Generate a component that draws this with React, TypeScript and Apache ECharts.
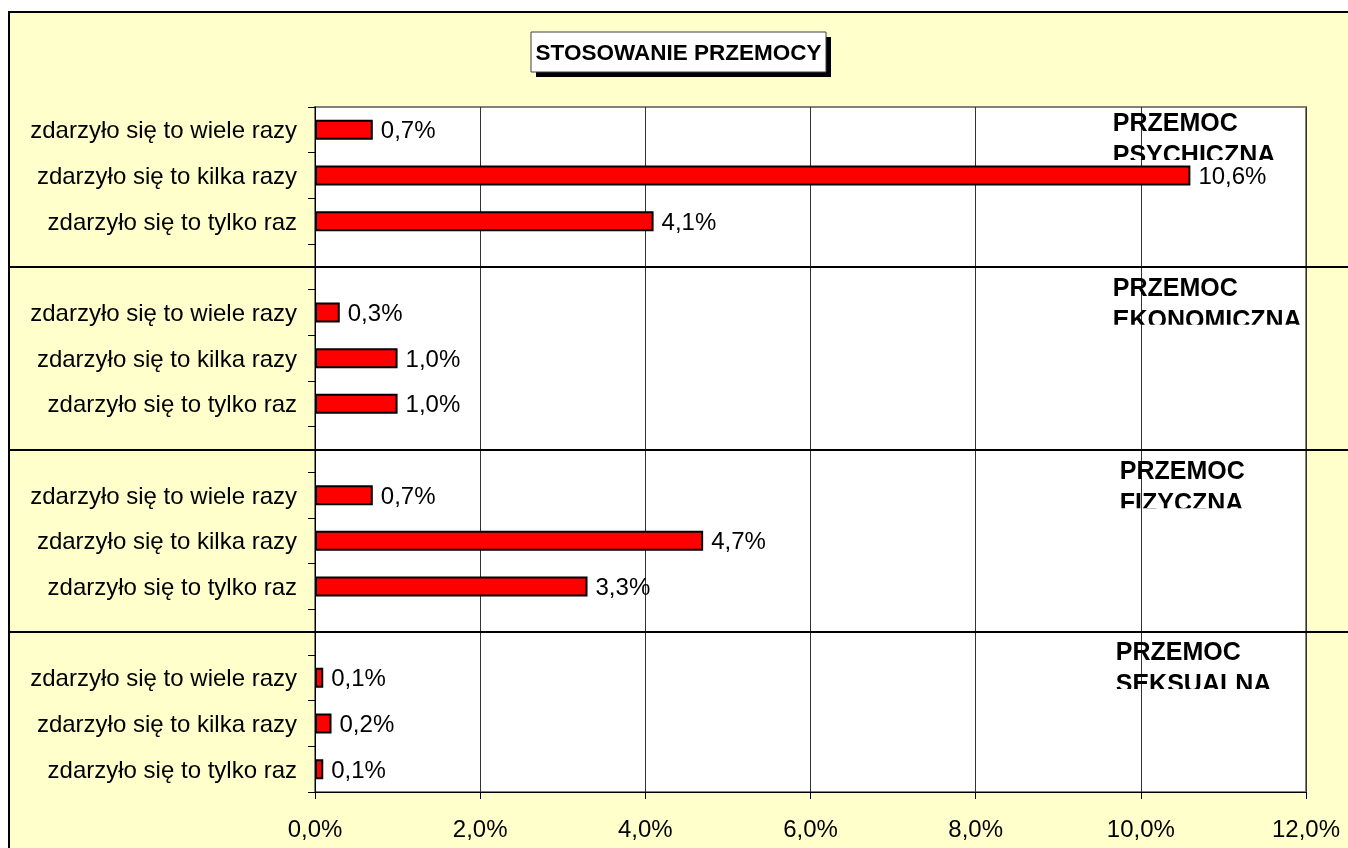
import React, { useEffect, useRef } from 'react';
import * as echarts from 'echarts';

// ---- data ----
const rowLabels = ['zdarzyło się to wiele razy', 'zdarzyło się to kilka razy', 'zdarzyło się to tylko raz'];
const groupNames = ['PRZEMOC\nPSYCHICZNA', 'PRZEMOC\nEKONOMICZNA', 'PRZEMOC\nFIZYCZNA', 'PRZEMOC\nSEKSUALNA'];
const psychiczna = [0.7, 10.6, 4.1];
const ekonomiczna = [0.3, 1.0, 1.0];
const fizyczna = [0.7, 4.7, 3.3];
const seksualna = [0.1, 0.2, 0.1];
const xMin = 0;
const xMax = 12;
const xInterval = 2;
const title = 'STOSOWANIE PRZEMOCY';

const groups = [psychiczna, ekonomiczna, fizyczna, seksualna];

// categories: 3 rows per group, one empty slot between groups
const categories: string[] = [];
const barValues: (number | null)[] = [];
const groupStart: number[] = [];
const separators: number[] = [];
groups.forEach((g, gi) => {
  groupStart.push(categories.length);
  g.forEach((v, ri) => {
    categories.push(rowLabels[ri]);
    barValues.push(v);
  });
  if (gi < groups.length - 1) {
    separators.push(categories.length);
    categories.push('');
    barValues.push(null);
  }
});

// ---- layout / style ----
const FONT = '"Liberation Sans", Arial, Helvetica, sans-serif';
const LABEL_X = 9.66; // group label anchor, in axis units
const LABEL_DX = [0, 0, 7, 3];
const CAP_OFFSET = [6, -12, -11, -13];
const fmt = (v: number) => v.toFixed(1).replace('.', ',') + '%';

export default function App() {
  const ref = useRef<HTMLDivElement>(null);
  useEffect(() => {
    if (!ref.current) return;
    const chart = echarts.init(ref.current, undefined, { renderer: 'svg' });
    chart.setOption({
      animation: false,
      textStyle: { fontFamily: FONT },
      graphic: [
        {
          type: 'rect',
          z: -100,
          shape: { x: 9, y: 12, width: 1400, height: 900 },
          style: { fill: '#FFFFCC', stroke: '#000', lineWidth: 2 },
        },
        {
          type: 'rect',
          z: 100,
          shape: { x: 536, y: 37, width: 295, height: 40 },
          style: { fill: '#000' },
        },
        {
          type: 'rect',
          z: 101,
          shape: { x: 531, y: 32, width: 295, height: 40 },
          style: { fill: '#fff', stroke: '#404040', lineWidth: 1 },
        },
        {
          type: 'text',
          z: 102,
          x: 678.5,
          y: 52,
          style: {
            text: title,
            fill: '#000',
            font: `bold 22.5px ${FONT}`,
            align: 'center',
            verticalAlign: 'middle',
          },
        },
      ],
      grid: {
        left: 315,
        top: 107,
        right: 42,
        bottom: 56,
        show: true,
        backgroundColor: '#fff',
        borderColor: '#808080',
        borderWidth: 2,
      },
      xAxis: {
        type: 'value',
        min: xMin,
        max: xMax,
        interval: xInterval,
        axisLine: { show: true, lineStyle: { color: '#000', width: 1 } },
        axisTick: { show: true, length: 7, lineStyle: { color: '#000' } },
        axisLabel: {
          color: '#000',
          fontSize: 24,
          fontFamily: FONT,
          margin: 24,
          formatter: (v: number) => fmt(v),
        },
        splitLine: { show: true, lineStyle: { color: '#333', width: 1 } },
      },
      yAxis: {
        type: 'category',
        inverse: true,
        data: categories,
        axisLine: { show: true, lineStyle: { color: '#000', width: 1 } },
        axisTick: { show: true, length: 7, interval: 0, lineStyle: { color: '#000' } },
        axisLabel: { color: '#000', fontSize: 24, fontFamily: FONT, margin: 18, interval: 0 },
        splitLine: { show: false },
      },
      series: [
        {
          type: 'bar',
          data: barValues,
          barWidth: 20,
          itemStyle: { color: '#FF0000', borderColor: '#000', borderWidth: 2 },
          label: {
            show: true,
            position: 'right',
            distance: 8,
            color: '#000',
            fontSize: 24,
            fontFamily: FONT,
            formatter: (p: any) => fmt(p.value),
          },
          z: 2,
        },
        {
          type: 'custom',
          clip: false,
          z: 5,
          data: separators.map((s) => [0, s]),
          encode: { x: 0, y: 1 },
          renderItem: (params: any, api: any) => {
            const y = Math.round(api.coord([0, api.value(1)])[1]);
            return {
              type: 'line',
              shape: { x1: 9, y1: y, x2: api.getWidth(), y2: y },
              style: { stroke: '#000', lineWidth: 2 },
            };
          },
        },
        {
          type: 'custom',
          clip: false,
          z: 6,
          data: groupStart.map((s) => [LABEL_X, s]),
          encode: { x: 0, y: 1 },
          renderItem: (params: any, api: any) => {
            const i = params.dataIndex;
            const pt = api.coord([api.value(0), api.value(1)]);
            const band = api.size([0, 1])[1];
            const slotTop = pt[1] - band / 2;
            const capTop = slotTop + CAP_OFFSET[i];
            const textTop = capTop - 7;
            const x = pt[0] + LABEL_DX[i];
            return {
              type: 'group',
              clipPath: {
                type: 'rect',
                shape: { x: x - 10, y: textTop - 10, width: 260, height: capTop + 47 - (textTop - 10) },
              },
              children: [
                {
                  type: 'text',
                  x,
                  y: textTop,
                  style: {
                    text: groupNames[i],
                    fill: '#000',
                    fontSize: 25,
                    fontWeight: 'bold',
                    fontFamily: FONT,
                    lineHeight: 32,
                    align: 'left',
                    verticalAlign: 'top',
                  },
                },
              ],
            };
          },
        },
      ],
    });
    return () => chart.dispose();
  }, []);
  return (
    <div
      ref={ref}
      style={{ position: 'fixed', left: 0, top: 0, width: 1348, height: 848 }}
    />
  );
}
